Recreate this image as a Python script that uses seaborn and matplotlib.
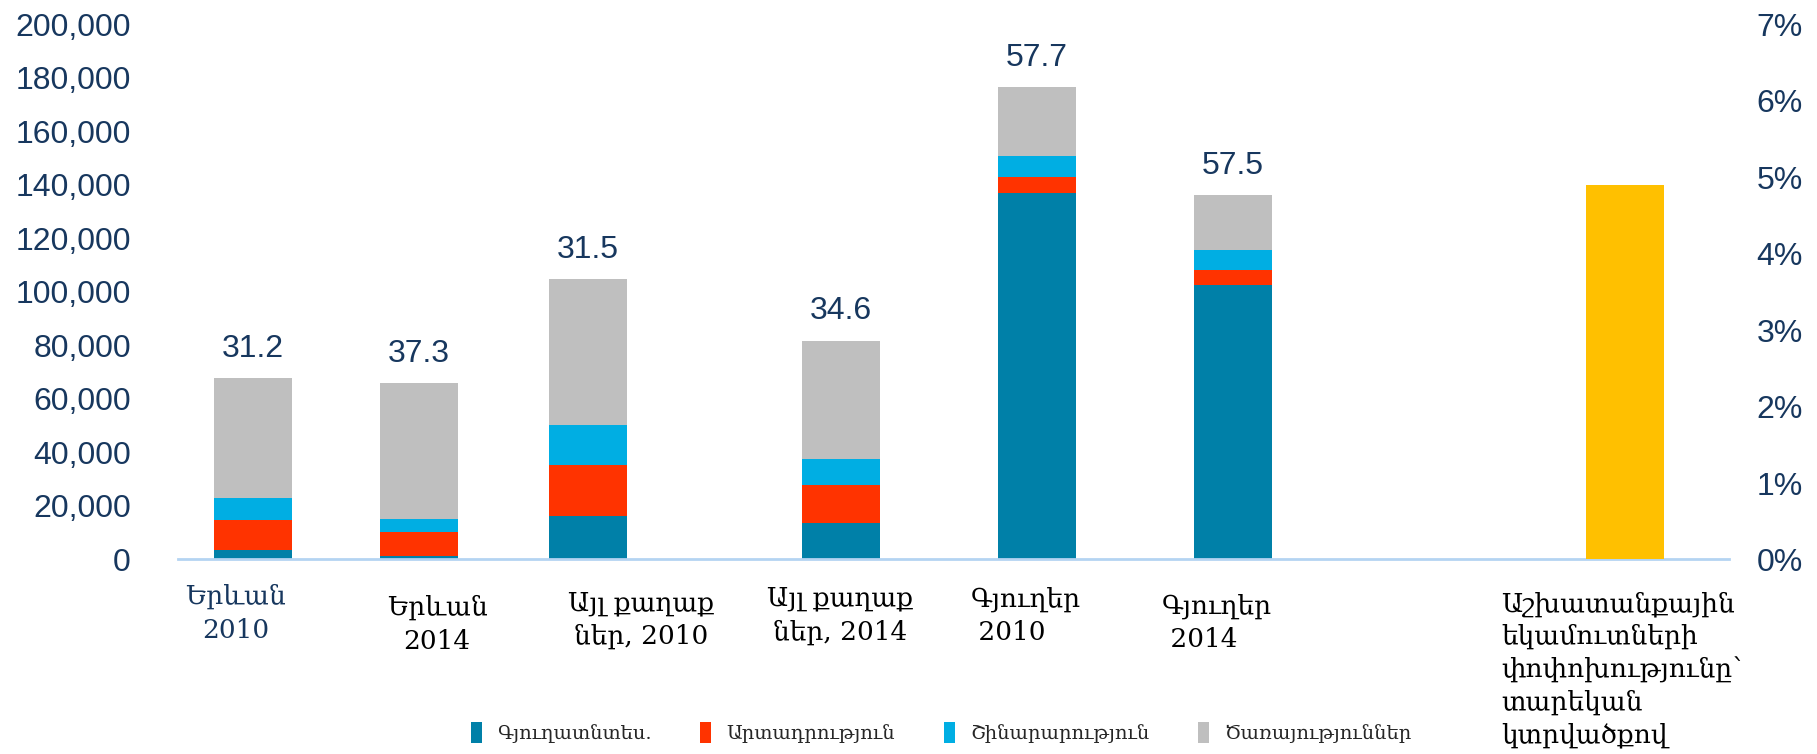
import numpy as np
import pandas as pd
import matplotlib
matplotlib.use("Agg")
import matplotlib.pyplot as plt
from matplotlib.patches import Patch
from matplotlib.ticker import FuncFormatter, MultipleLocator
import seaborn as sns

# ---- data -------------------------------------------------------------
groups = ["Երևան\n2010", "Երևան\n2014", "Այլ քաղաք\nներ, 2010",
          "Այլ քաղաք\nներ, 2014", "Գյուղեր\n 2010", "Գյուղեր\n 2014"]
agriculture = [3400, 1400, 16300, 13600, 136800, 102700]
industry = [11400, 8700, 19100, 14400, 6300, 5400]
construction = [8200, 5200, 14900, 9500, 7600, 7700]
services = [44900, 50700, 54600, 44300, 25700, 20500]
top_values = [31.2, 37.3, 31.5, 34.6, 57.7, 57.5]

income_label = "Աշխատանքային\nեկամուտների\nփոփոխությունը՝\nտարեկան\nկտրվածքով"
income_change = [0.049]

sector_names = ["Գյուղատնտես.", "Արտադրություն", "Շինարարություն", "Ծառայություններ"]

# ---- layout / style ---------------------------------------------------
bar_x = [0.384, 1.229, 2.092, 3.387, 4.387, 5.388]
income_x = [7.389]
BAR_W = 0.40
X_MAX = 7.92

NAVY = "#17375E"
colors = ["#0080A8", "#FF3300", "#00AEE3", "#BFBFBF"]
YELLOW = "#FFC000"
AXIS_BLUE = "#B4D4F2"

sns.set_theme(style="white")
plt.rcParams["font.family"] = ["Liberation Sans", "DejaVu Sans"]
SERIF = ["DejaVu Serif", "DejaVu Sans"]

fig = plt.figure(figsize=(18.17, 7.54), dpi=100)
ax = fig.add_axes([0.098, 0.258, 0.9515 - 0.098, 0.9678 - 0.258])
ax2 = ax.twinx()

df = pd.DataFrame({"x": bar_x, "agr": agriculture, "ind": industry,
                   "con": construction, "ser": services})
df["c1"] = df["agr"]
df["c2"] = df["c1"] + df["ind"]
df["c3"] = df["c2"] + df["con"]
df["c4"] = df["c3"] + df["ser"]

gap = np.diff(sorted(bar_x)).min()
for col, c in zip(["c4", "c3", "c2", "c1"], colors[::-1]):
    sns.barplot(data=df, x="x", y=col, native_scale=True, width=BAR_W / gap,
                color=c, saturation=1, errorbar=None, linewidth=0, ax=ax)

inc = pd.DataFrame({"x": income_x, "v": income_change})
sns.barplot(data=inc, x="x", y="v", native_scale=True, width=BAR_W,
            color=YELLOW, saturation=1, errorbar=None, linewidth=0, ax=ax2)

# totals labels above the stacks
for x, tot, v in zip(bar_x, df["c4"], top_values):
    ax.annotate(f"{v}", (x, tot), xytext=(0, 21), textcoords="offset points",
                ha="center", va="center", fontsize=23, color=NAVY)

# axes
for a in (ax, ax2):
    a.set_xlim(0, X_MAX)
    a.set_xticks([])
    a.set_xlabel("")
    a.set_ylabel("")
    for s in a.spines.values():
        s.set_visible(False)
ax.spines["bottom"].set_visible(True)
ax.spines["bottom"].set_color(AXIS_BLUE)
ax.spines["bottom"].set_linewidth(2)

ax.set_ylim(0, 200000)
ax.yaxis.set_major_locator(MultipleLocator(20000))
ax.yaxis.set_major_formatter(FuncFormatter(lambda v, p: f"{v:,.0f}"))
ax.tick_params(axis="y", length=0, pad=34, labelsize=23, labelcolor=NAVY)

ax2.set_ylim(0, 0.07)
ax2.yaxis.set_major_locator(MultipleLocator(0.01))
ax2.yaxis.set_major_formatter(FuncFormatter(lambda v, p: f"{v * 100:.0f}%"))
ax2.tick_params(axis="y", length=0, pad=20, labelsize=23, labelcolor=NAVY)

# category labels under the axis
trans = ax.get_xaxis_transform()
label_pos = [(0.295, -0.046, "center", NAVY), (1.323, -0.066, "center", "black"),
             (2.366, -0.058, "center", "black"), (3.379, -0.050, "center", "black"),
             (4.046, -0.050, "left", "black"), (5.023, -0.063, "left", "black")]
for name, (x, y, ha, c) in zip(groups, label_pos):
    ax.text(x, y, name, transform=trans, ha=ha, va="top", fontsize=19,
            family=SERIF, color=c, linespacing=1.42)
ax.text(6.758, -0.059, income_label, transform=trans, ha="left", va="top",
        fontsize=19, family=SERIF, color="black", linespacing=1.36)

# legend
handles = [Patch(facecolor=c, edgecolor="none") for c in colors]
fig.legend(handles, sector_names, loc="center", bbox_to_anchor=(0.518, 0.028),
           ncol=4, frameon=False, handlelength=0.55, handleheight=1.3,
           handletextpad=0.8, columnspacing=2.5,
           prop={"family": SERIF, "size": 14})

fig.savefig("out.png", dpi=100)
